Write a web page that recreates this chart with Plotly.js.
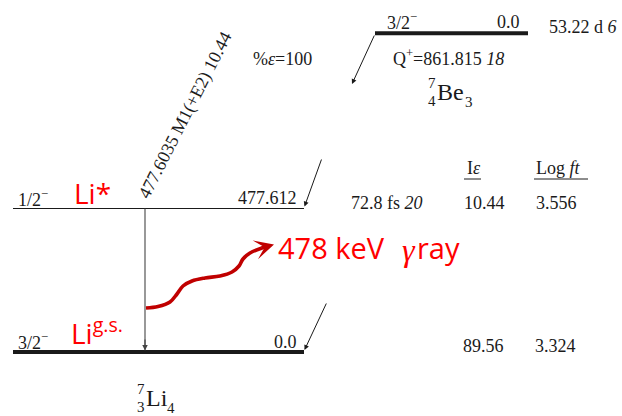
<!DOCTYPE html>
<html><head><meta charset="utf-8">
<script src="https://cdn.plot.ly/plotly-3.0.1.min.js"></script>
<style>html,body{margin:0;padding:0;background:#fff}#chart{width:622px;height:416px}</style>
</head><body><div id="chart"></div>
<script>
// ---- data ----
const levelEnergy   = [0.0, 477.612];            // keV, 7Li levels
const levelLabel    = ['0.0', '477.612'];
const levelSpin     = ['3/2', '1/2'];
const levelParity   = ['−', '−'];
const levelHalfLife = ['', '72.8 fs <i>20</i>'];
const branchIe      = ['89.56', '10.44'];
const branchLogFt   = ['3.324', '3.556'];
const levelRedTag   = ['Li<sup>g.s.</sup>', 'Li*'];
const gammaEnergy   = ['477.6035'];
const gammaMult     = ['M1(+E2)'];
const gammaInt      = ['10.44'];
const parentSpin    = ['3/2'];
const parentParity  = ['−'];
const parentLevel   = ['0.0'];
const parentHalfLife= ['53.22 d <i>6</i>'];
const qValue        = ['861.815'];
const qUnc          = ['18'];
const decayPct      = ['100'];
const nucSymbol     = ['Be', 'Li'];
const nucA          = ['7', '7'];
const nucZ          = ['4', '3'];
const nucN          = ['3', '4'];
const headerLabels  = ['I<i>ε</i>', 'Log <i>ft</i>'];
const gammaNote     = ['478 keV', 'γ', 'ray'];

// ---- geometry helpers ----
const W = 622, H = 416;
const groundPx = 352, excitedPx = 208.5;
const kevPerPx = levelEnergy[1] / (groundPx - excitedPx);
const py = p => (groundPx - p) * kevPerPx;          // pixel row -> keV axis value
const pxOfE = e => groundPx - e / kevPerPx;

const BLK = '#1a1a1a';
const SERIF = 'Liberation Serif, Times New Roman, serif';
const SANS = 'Open Sans, Calibri, sans-serif';
const RED = '#ff0000', DRED = '#c00000';
const FS = 18;

const traces = [];
// daughter levels
levelEnergy.forEach((e, i) => {
  traces.push({x: [13, 304], y: [e, e], mode: 'lines',
    line: {color: BLK, width: e === 0 ? 4 : 1.2}, hoverinfo: 'skip'});
});
// parent level
const parentY = py(33.3);
traces.push({x: [375, 528], y: [parentY, parentY], mode: 'lines',
  line: {color: BLK, width: 4}, hoverinfo: 'skip'});
// gamma transition line
traces.push({x: [145, 145], y: [levelEnergy[1], levelEnergy[0] + 6], mode: 'lines',
  line: {color: '#444', width: 1.1}, hoverinfo: 'skip'});
// header underlines
traces.push({x: [464, 481], y: [py(179), py(179)], mode: 'lines', line: {color: BLK, width: 1}, hoverinfo: 'skip'});
traces.push({x: [534, 588], y: [py(179), py(179)], mode: 'lines', line: {color: BLK, width: 1}, hoverinfo: 'skip'});
// red wavy gamma symbol
const waveX = [146, 158, 170, 177, 183, 192, 205, 220, 232, 239, 243, 250, 262];
const waveY = [308, 306.5, 302, 294, 286, 281, 278, 276, 272, 266, 259, 253, 248].map(py);
traces.push({x: waveX, y: waveY, mode: 'lines', line: {color: DRED, width: 3.6, shape: 'spline', smoothing: 1},
  hoverinfo: 'skip'});

const ann = [];
const txt = (x, yPx, text, opt = {}) => ann.push(Object.assign({
  x, y: py(yPx), text, showarrow: false, xanchor: 'left', yanchor: 'middle', borderpad: 0,
  font: {family: SERIF, size: FS, color: BLK}}, opt));
const arrow = (x, yPx, ax, ayPx, opt = {}) => ann.push(Object.assign({
  x, y: py(yPx), ax, ay: py(ayPx), axref: 'x', ayref: 'y', text: '', showarrow: true,
  arrowhead: 2, arrowsize: 1, arrowwidth: 1, arrowcolor: BLK, standoff: 0}, opt));

// arrows
arrow(145, pxOfE(levelEnergy[0]) - 1.5, 145, pxOfE(levelEnergy[0]) - 14, {arrowcolor: '#444', arrowwidth: 1.1});
arrow(304.5, pxOfE(levelEnergy[1]) - 2, 322, 158);
arrow(304.5, pxOfE(levelEnergy[0]) - 2, 327, 302);
arrow(352, 84, 375, 34);
arrow(274, 244.5, 260, 248.5, {arrowhead: 3, arrowsize: 0.9, arrowwidth: 3.6, arrowcolor: DRED});

// level texts
levelEnergy.forEach((e, i) => {
  const b = pxOfE(e);
  txt(17, b - (i === 0 ? 11 : 10), levelSpin[i] + '<sup>' + levelParity[i] + '</sup>');
  txt(298, b - 10.5, levelLabel[i], {xanchor: 'right'});
  if (levelHalfLife[i]) txt(350, b - 6, levelHalfLife[i]);
  txt(i === 0 ? 462 : 463, b - 6, branchIe[i]);
  txt(i === 0 ? 534 : 535, b - 6, branchLogFt[i]);
});
// red labels
txt(73, 193, levelRedTag[1], {font: {family: SANS, size: 28, color: RED}});
txt(70, 331, levelRedTag[0], {font: {family: SANS, size: 28, color: RED}});
txt(277, 247, gammaNote[0], {font: {family: SANS, size: 29, color: RED}});
txt(401, 250, '<i>' + gammaNote[1] + '</i>', {font: {family: SERIF, size: 32, color: RED}});
txt(416, 247, gammaNote[2], {font: {family: SANS, size: 29, color: RED}});

// headers
txt(466, 168, headerLabels[0]);
txt(535, 168, headerLabels[1]);

// parent texts
txt(386, 21.5, parentSpin[0] + '<sup>' + parentParity[0] + '</sup>');
txt(521, 22, parentLevel[0], {xanchor: 'right'});
txt(548, 27, parentHalfLife[0]);
txt(392, 57, 'Q<sup>+</sup>=' + qValue[0] + ' <i>' + qUnc[0] + '</i>');
txt(252, 59, '%<i>ε</i>=' + decayPct[0]);

// gamma label (rotated)
ann.push({x: 185, y: py(115), text: gammaEnergy[0] + ' ' + gammaMult[0] + ' ' + gammaInt[0],
  showarrow: false, textangle: -63, xanchor: 'center', yanchor: 'middle', borderpad: 0,
  font: {family: SERIF, size: FS, color: BLK}});

// nuclide symbols
txt(436, 92, nucSymbol[0], {font: {family: SERIF, size: 24, color: BLK}});
txt(427, 83, nucA[0], {font: {family: SERIF, size: 15, color: BLK}});
txt(427, 101, nucZ[0], {font: {family: SERIF, size: 15, color: BLK}});
txt(464, 102, nucN[0], {font: {family: SERIF, size: 15, color: BLK}});
txt(145, 398, nucSymbol[1], {font: {family: SERIF, size: 24, color: BLK}});
txt(136, 389, nucA[1], {font: {family: SERIF, size: 15, color: BLK}});
txt(136, 407, nucZ[1], {font: {family: SERIF, size: 15, color: BLK}});
txt(166, 408, nucN[1], {font: {family: SERIF, size: 15, color: BLK}});

const layout = {
  width: W, height: H, margin: {l: 0, r: 0, t: 0, b: 0},
  paper_bgcolor: '#fff', plot_bgcolor: '#fff', showlegend: false,
  xaxis: {range: [0, W], visible: false, fixedrange: true},
  yaxis: {range: [py(H), py(0)], visible: false, fixedrange: true},
  annotations: ann
};
Plotly.newPlot('chart', traces, layout, {displayModeBar: false, staticPlot: true});
</script></body></html>
